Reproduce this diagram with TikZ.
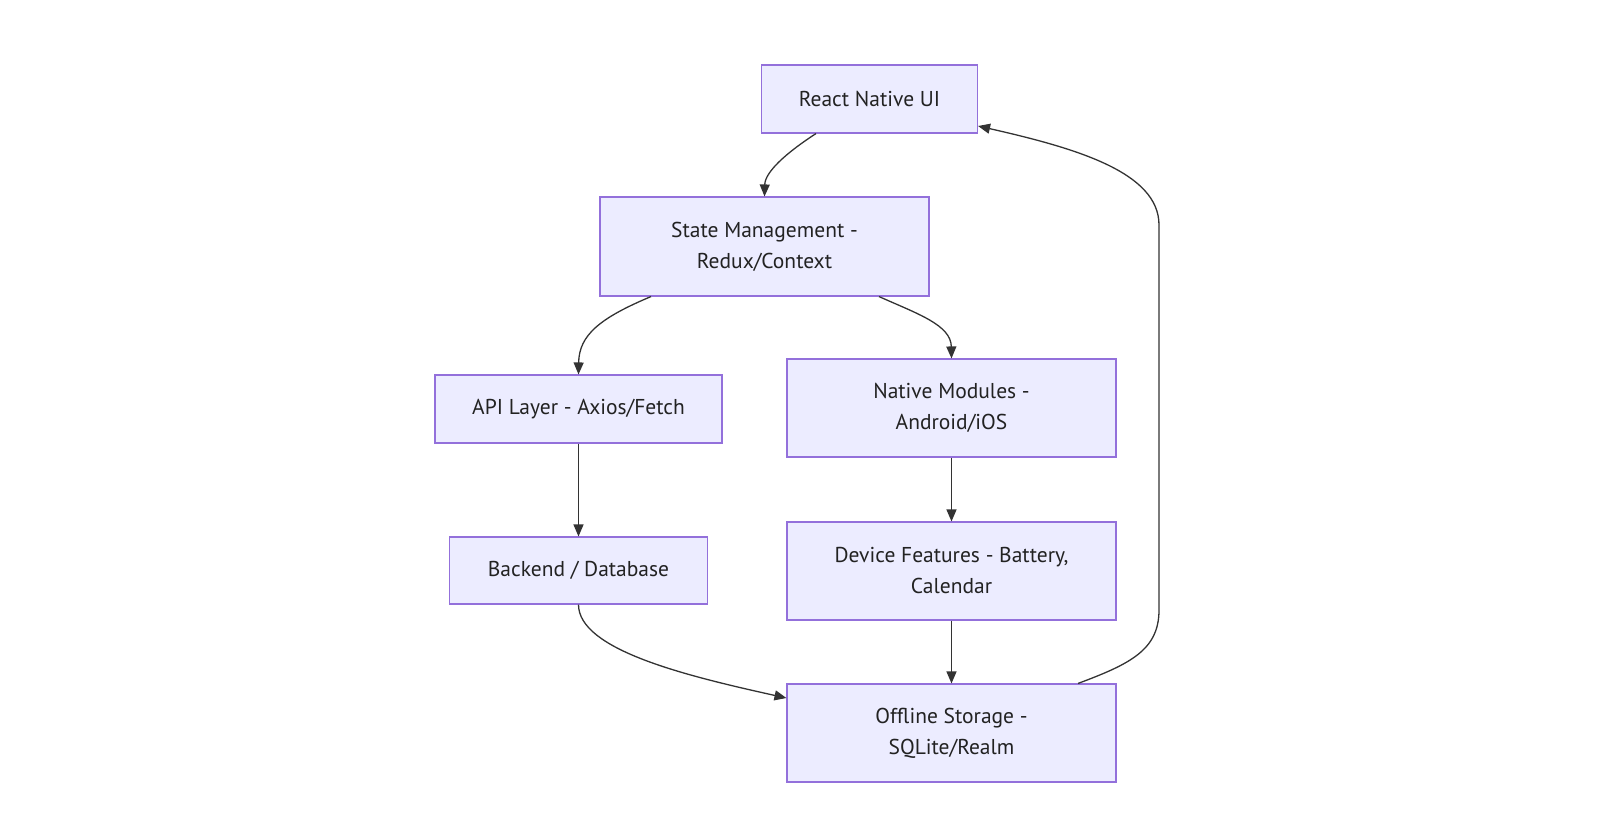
\documentclass[tikz,border=0pt]{standalone}
\usepackage{fontspec}
\setmainfont{PT Sans}
\usetikzlibrary{arrows.meta}
\definecolor{boxfill}{HTML}{ECECFF}
\definecolor{boxline}{HTML}{9370DB}
\definecolor{edgecol}{HTML}{333333}
\definecolor{txtcol}{HTML}{222222}
\tikzset{
  box/.style={draw=boxline, fill=boxfill, line width=1.1pt, text=txtcol,
    align=center, inner sep=0pt,
    font=\fontsize{21.5}{31}\selectfont},
  edge/.style={draw=edgecol, line width=1.3pt,
    -{Triangle[length=12pt,width=10pt]}},
}
\begin{document}
\begin{tikzpicture}[x=1pt,y=1pt]
\useasboundingbox (0,0) rectangle (1623,-828);
\node[box, minimum width=216pt, minimum height=68pt] (react) at (869.5,-99) {React Native UI};
\node[box, minimum width=329pt, minimum height=99pt] (state) at (764.5,-246.5) {State Management -\\Redux/Context};
\node[box, minimum width=287pt, minimum height=68pt] (api) at (578.5,-409) {API Layer - Axios/Fetch};
\node[box, minimum width=329pt, minimum height=98pt] (native) at (951.5,-408) {Native Modules -\\Android/iOS};
\node[box, minimum width=258pt, minimum height=67pt] (backend) at (578.5,-570.5) {Backend / Database};
\node[box, minimum width=329pt, minimum height=98pt] (device) at (951.5,-571) {Device Features - Battery,\\Calendar};
\node[box, minimum width=329pt, minimum height=98pt] (offline) at (951.5,-733) {Offline Storage -\\SQLite/Realm};

\draw[edge] ([xshift=-53.5pt]react.south) .. controls (786,-153) and (765,-172) .. (state.north);
\draw[edge] ([xshift=-113.5pt]state.south) .. controls (600,-318) and (579,-335) .. (api.north);
\draw[edge] ([xshift=114.5pt]state.south) .. controls (918,-314) and (951,-325) .. (native.north);
\draw[edge] (api.south) -- (backend.north);
\draw[edge] (native.south) -- (device.north);
\draw[edge] (device.south) -- (offline.north);
\draw[edge] (backend.south) .. controls (578.5,-650) and (687,-676) .. ([yshift=35pt]offline.west);
\draw[edge] ([xshift=126.5pt]offline.north) .. controls (1130,-664) and (1159,-650) .. (1159,-610)
  -- (1159,-225) .. controls (1159,-172) and (1075,-148) .. ([yshift=-27pt]react.east);
\end{tikzpicture}
\end{document}
